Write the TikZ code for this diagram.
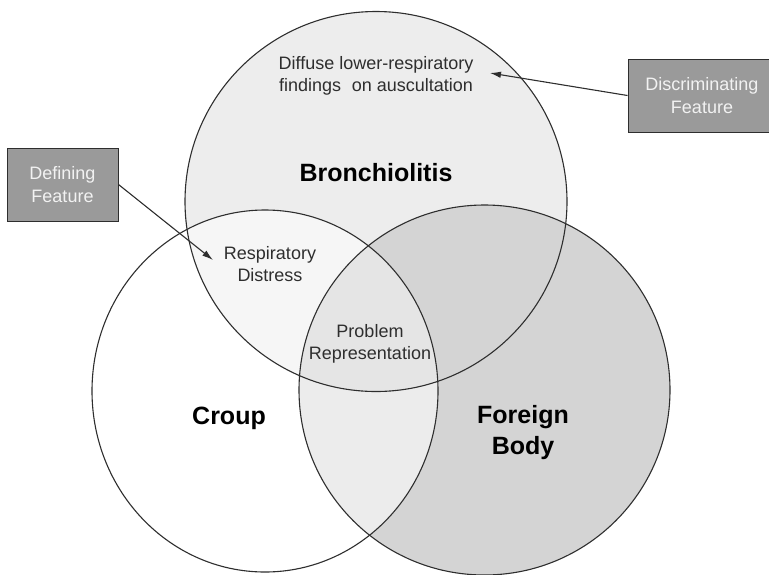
\documentclass[tikz,border=0pt]{standalone}
\usepackage{fontspec}
\setmainfont{Liberation Sans}
\usetikzlibrary{arrows.meta}

\definecolor{bronchgray}{HTML}{EDEDED}
\definecolor{bodygray}{HTML}{D4D4D4}
\definecolor{bcgray}{HTML}{F6F6F6}
\definecolor{cbgray}{HTML}{ECECEC}
\definecolor{triplegray}{HTML}{E5E5E5}
\definecolor{boxgray}{HTML}{9A9A9A}
\definecolor{linegray}{HTML}{2E2E2E}

% the three sets
\newcommand{\bronchset}{(376,201.5) ellipse [x radius=191pt, y radius=190pt]}
\newcommand{\croupset}{(265,391) ellipse [x radius=173pt, y radius=181pt]}
\newcommand{\bodyset}{(484.5,390) ellipse [x radius=185.5pt, y radius=185pt]}

\begin{document}
\begin{tikzpicture}[x=1pt,y=-1pt,>={Latex[length=11pt,width=6.5pt]},
every node/.style={inner sep=0pt},
smalltext/.style={align=center,text=linegray,font=\fontsize{18}{22}\selectfont},
bigtext/.style={align=center,font=\fontsize{25}{31}\selectfont\bfseries},
featurebox/.style={draw=linegray,fill=boxgray,text=white!95!black,align=center,
  font=\fontsize{18}{22.5}\selectfont,line width=1pt},
setline/.style={draw=linegray,line width=1.1pt},
arrowstyle/.style={->,draw=linegray,line width=1.1pt}]

\useasboundingbox (0,0) rectangle (769,574);

% shading of the regions
\fill[bronchgray] \bronchset;
\fill[bodygray] \bodyset;
\fill[white] \croupset;
\begin{scope}
  \clip \croupset;
  \fill[bcgray] \bronchset;
  \fill[cbgray] \bodyset;
  \clip \bodyset;
  \fill[triplegray] \bronchset;
\end{scope}

% outlines
\draw[setline] \bronchset;
\draw[setline] \croupset;
\draw[setline] \bodyset;

% labels
\node[bigtext] (bronch) at (376,173) {Bronchiolitis};
\node[bigtext] (croup) at (229,418) {Croup};
\node[bigtext] (body) at (523,433) {Foreign\\Body};
\node[smalltext] (diffuse) at (376,76) {Diffuse lower-respiratory\\findings\hspace{0.6em}on auscultation};
\node[smalltext] (distress) at (270,264) {Respiratory\\Distress};
\node[smalltext] (problem) at (370,344) {Problem\\Representation};

\node[featurebox,minimum width=111,minimum height=73] (defining) at (62.5,184.5) {Defining\\Feature};
\node[featurebox,minimum width=148,minimum height=73] (discrim) at (702,95.5) {Discriminating\\Feature};

\coordinate (disctip) at (490,73);
\coordinate (deftip) at (213,260);

\draw[arrowstyle] (discrim.west) -- (disctip);
\draw[arrowstyle] (defining.east) -- (deftip);

\end{tikzpicture}
\end{document}
